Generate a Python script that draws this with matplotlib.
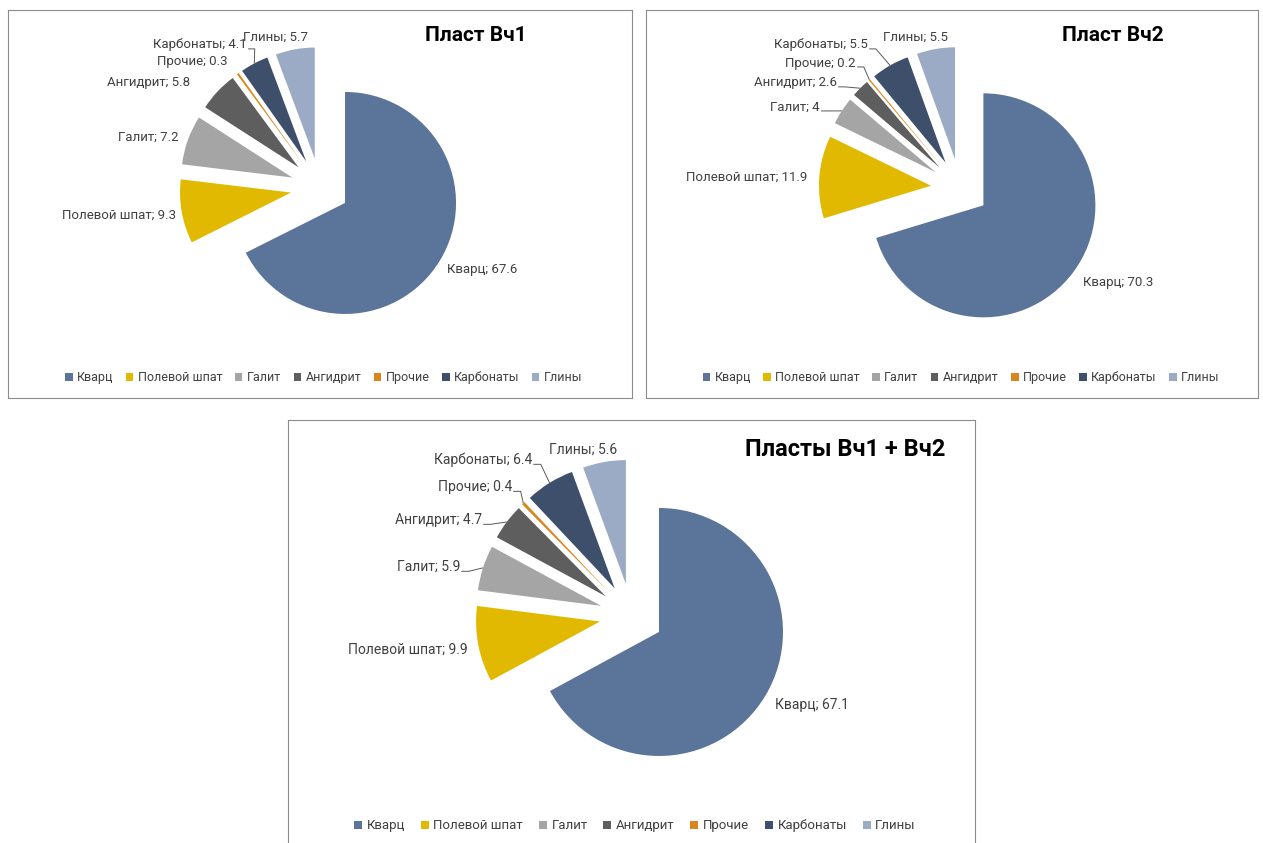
import matplotlib
matplotlib.use('Agg')
import matplotlib.pyplot as plt
import numpy as np

plt.rcParams['font.family'] = ['Roboto', 'DejaVu Sans']

W, H = 1263, 843

# ---- data ----
MINERALS = ["Кварц", "Полевой шпат", "Галит", "Ангидрит", "Прочие", "Карбонаты", "Глины"]
VCH1 = [67.6, 9.3, 7.2, 5.8, 0.3, 4.1, 5.7]
VCH2 = [70.3, 11.9, 4, 2.6, 0.2, 5.5, 5.5]
VCH12 = [67.1, 9.9, 5.9, 4.7, 0.4, 6.4, 5.6]
TITLES = ["Пласт Вч1", "Пласт Вч2", "Пласты Вч1 + Вч2"]

COLORS = ["#5B7499", "#E0B900", "#A5A5A5", "#5E5E5E", "#D9861C", "#3E4F6B", "#9BABC6"]
TEXT_COLOR = "#404040"
BORDER_COLOR = "#8C8C8C"

# ---- layout (pixels for boxes/centres, pie radius units for labels) ----
PANELS = [
    dict(values=VCH1, title=TITLES[0],
         box=(8, 10, 632, 398), center=(320, 187.5), radius=111, explode=0.265,
         title_xy=(0.75, 0.933), title_size=15, label_size=9.5,
         legend_xy=(0.506, 0.052), legend_size=9, legend_gap=1.0,
         labels=[(1.144, -0.743, 'left'), (-1.297, -0.248, 'right'),
                 (-1.279, 0.455, 'right'), (-1.171, 0.950, 'right'),
                 (-0.829, 1.131, 'right'), (-0.658, 1.284, 'right'),
                 (-0.405, 1.356, 'center')],
         leaders=[5], bottom_spine=True),
    dict(values=VCH2, title=TITLES[1],
         box=(646, 10, 1258, 398), center=(960, 188), radius=112, explode=0.26,
         title_xy=(0.763, 0.933), title_size=15, label_size=9.5,
         legend_xy=(0.515, 0.052), legend_size=9, legend_gap=1.0,
         labels=[(1.098, -0.848, 'left'), (-1.366, 0.098, 'right'),
                 (-1.250, 0.723, 'right'), (-1.098, 0.938, 'right'),
                 (-0.929, 1.116, 'right'), (-0.821, 1.277, 'right'),
                 (-0.393, 1.348, 'center')],
         leaders=[2, 3, 4, 5], bottom_spine=True),
    dict(values=VCH12, title=TITLES[2],
         box=(288, 420, 975, 845), center=(631.5, 615.6), radius=124, explode=0.258,
         title_xy=(0.811, 0.931), title_size=17, label_size=10,
         legend_xy=(0.505, 0.045), legend_size=9.5, legend_gap=1.2,
         labels=[(1.157, -0.723, 'left'), (-1.319, -0.277, 'right'),
                 (-1.383, 0.392, 'right'), (-1.206, 0.771, 'right'),
                 (-0.964, 1.037, 'right'), (-0.802, 1.255, 'right'),
                 (-0.392, 1.335, 'center')],
         leaders=[2, 3, 4, 5], bottom_spine=False),
]

fig = plt.figure(figsize=(W / 100, H / 100), dpi=100)
fig.patch.set_facecolor('white')


def draw_panel(p):
    l, t, r, b = p['box']
    ax = fig.add_axes([l / W, 1 - b / H, (r - l) / W, (b - t) / H])
    vals = p['values']
    wedges, _ = ax.pie(vals, colors=COLORS, startangle=90, counterclock=False,
                       explode=[p['explode']] * len(vals), frame=True,
                       wedgeprops=dict(linewidth=0))
    cx, cy = p['center']
    R = p['radius']
    ax.set_xlim((l - cx) / R, (r - cx) / R)
    ax.set_ylim((cy - b) / R, (cy - t) / R)
    ax.set_aspect('auto')
    ax.set_xticks([])
    ax.set_yticks([])
    for sp in ax.spines.values():
        sp.set_color(BORDER_COLOR)
        sp.set_linewidth(0.8)
    if not p['bottom_spine']:
        ax.spines['bottom'].set_visible(False)

    # data labels "name; value", leader lines to the outer edge of small slices
    for i, (name, v) in enumerate(zip(MINERALS, vals)):
        lx, ly, ha = p['labels'][i]
        ax.text(lx, ly, f"{name}; {v:g}", ha=ha, va='center',
                fontsize=p['label_size'], color=TEXT_COLOR)
        if i in p['leaders']:
            w = wedges[i]
            mid = np.deg2rad((w.theta1 + w.theta2) / 2)
            ex = w.center[0] + w.r * np.cos(mid)
            ey = w.center[1] + w.r * np.sin(mid)
            y0 = ly - 0.035
            x0 = lx + 0.01
            ax.plot([x0, x0 + 0.06, ex], [y0, y0, ey], color="#595959", lw=0.7,
                    solid_capstyle='butt')

    ax.text(p['title_xy'][0], p['title_xy'][1], p['title'], transform=ax.transAxes,
            ha='center', va='center', fontsize=p['title_size'], fontweight='bold',
            color='black')

    ax.legend(wedges, MINERALS, loc='center', bbox_to_anchor=p['legend_xy'],
              ncol=len(MINERALS), frameon=False, fontsize=p['legend_size'],
              handlelength=0.6, handleheight=0.6, handletextpad=0.35,
              columnspacing=p['legend_gap'], labelcolor=TEXT_COLOR)


for p in PANELS:
    draw_panel(p)

fig.savefig("out.png", dpi=100, facecolor='white')
